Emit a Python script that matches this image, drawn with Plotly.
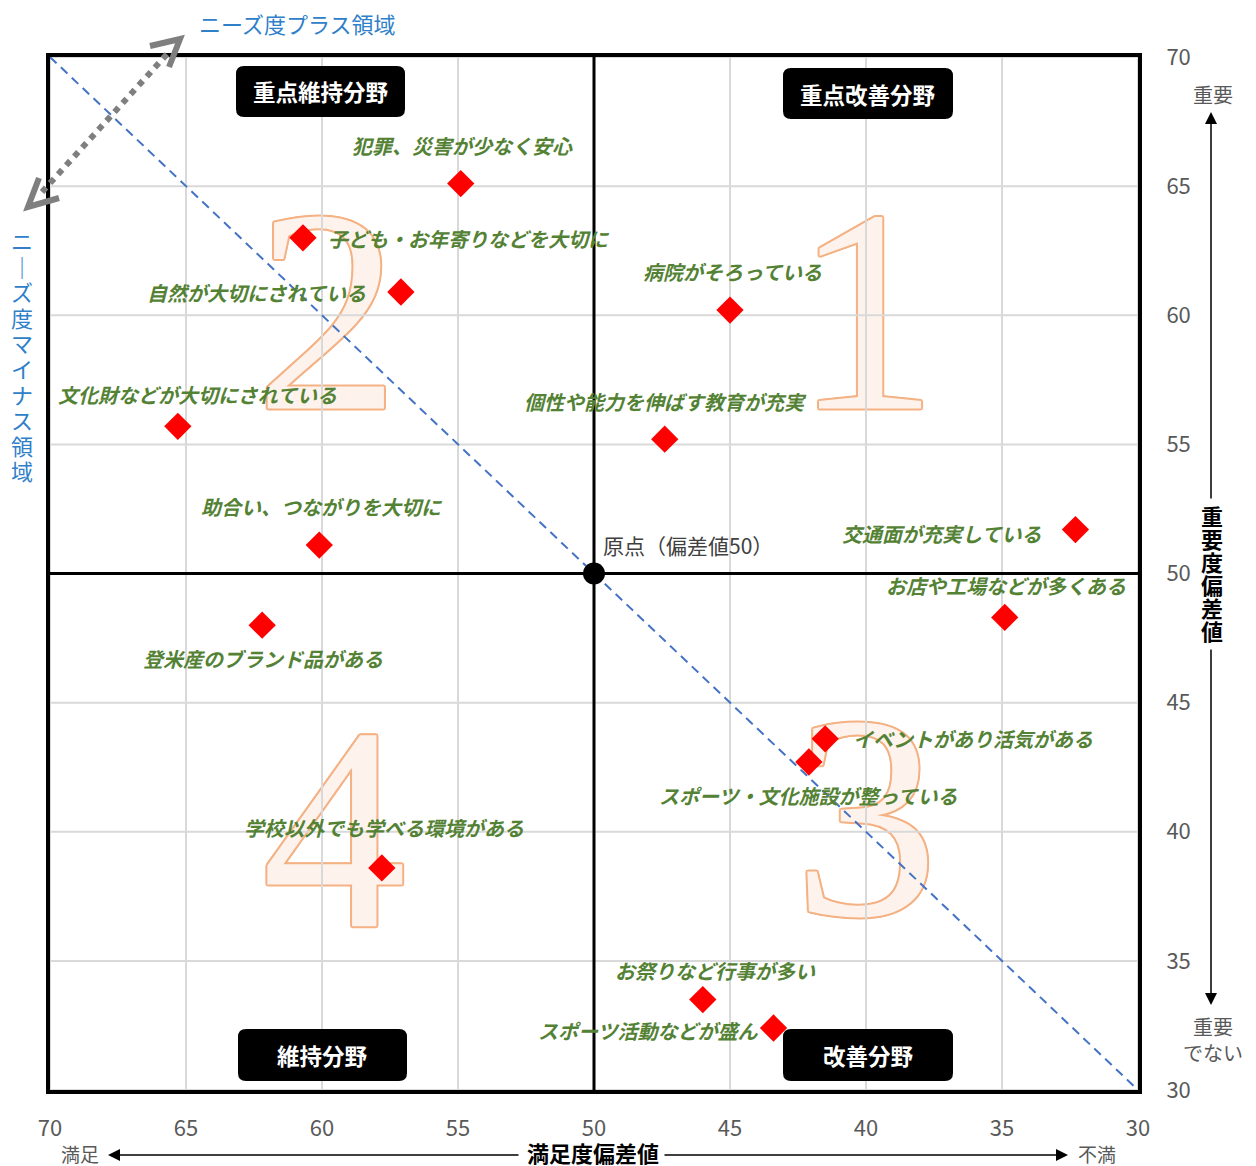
import plotly.graph_objects as go

# ---------------- data ----------------
items = [
    "犯罪、災害が少なく安心",
    "子ども・お年寄りなどを大切に",
    "自然が大切にされている",
    "文化財などが大切にされている",
    "助合い、つながりを大切に",
    "登米産のブランド品がある",
    "学校以外でも学べる環境がある",
    "病院がそろっている",
    "個性や能力を伸ばす教育が充実",
    "交通面が充実している",
    "お店や工場などが多くある",
    "イベントがあり活気がある",
    "スポーツ・文化施設が整っている",
    "お祭りなど行事が多い",
    "スポーツ活動などが盛ん",
]
satisfaction = [54.9, 60.7, 57.1, 65.3, 60.1, 62.2, 57.8, 45.0, 47.4, 32.3, 34.9, 41.5, 42.1, 46.0, 43.4]
importance = [65.1, 63.0, 60.9, 55.7, 51.1, 48.0, 38.6, 60.2, 55.2, 51.7, 48.3, 43.6, 42.7, 33.5, 32.4]

x_ticks = [70, 65, 60, 55, 50, 45, 40, 35, 30]
y_ticks = [30, 35, 40, 45, 50, 55, 60, 65, 70]
x_range = [70, 30]
y_range = [30, 70]
origin = 50

quad_labels = ["1", "2", "3", "4"]
quad_x = [40, 59.8, 40, 59.55]
quad_y = [59.2, 59.2, 39.6, 39.15]

# label placement (anchor, dx px, dy px downward)
label_pos = [
    ("center", 2, -38), ("left", 23, 1), ("right", -33, 0), ("center", 20, -32),
    ("center", 3, -39), ("center", 1, 33), ("center", 2, -40), ("center", 2, -39),
    ("center", 1, -38), ("right", -32, 4), ("center", 1, -32), ("left", 26, 0),
    ("center", 0, 33), ("center", 13, -29), ("right", -13, 2),
]

# ---------------- layout geometry ----------------
OFF = 8  # page body margin
W, H = 1248, 1158
L, T = 42, 49
R = W - 1130
B = H - 1082
PW, PH = W - L - R, H - T - B


def px(x):
    return (x - OFF - L) / PW


def py(y):
    return (H - B - (y - OFF)) / PH


JP = "Noto Sans CJK JP"
GRAY = "#595959"
BLUE = "#2f80c9"

fig = go.Figure()

# big quadrant numbers (outlined)
ol = "#f4b183"
shadow = ", ".join(f"{a}px {b}px 0 {ol}" for a, b in
                   [(2, 0), (-2, 0), (0, 2), (0, -2), (1.5, 1.5), (-1.5, 1.5), (1.5, -1.5), (-1.5, -1.5)])
fig.add_trace(go.Scatter(
    x=quad_x, y=quad_y, mode="text", text=quad_labels, textposition="middle center",
    textfont=dict(family="Liberation Serif", size=290, color="#fdf3ec", shadow=shadow),
    hoverinfo="skip", showlegend=False))

# grid lines (drawn over the numbers)
gx, gy = [], []
for v in x_ticks:
    if v != origin:
        gx += [v, v, None]
        gy += [y_range[0], y_range[1], None]
for v in y_ticks:
    if v != origin:
        gx += [x_range[0], x_range[1], None]
        gy += [v, v, None]
fig.add_trace(go.Scatter(x=gx, y=gy, mode="lines", line=dict(color="#d9d9d9", width=2),
                         hoverinfo="skip", showlegend=False))

# diagonal (y = x)
fig.add_trace(go.Scatter(x=x_range, y=x_range, mode="lines",
                         line=dict(color="#4472c4", width=2, dash="9px,6px"),
                         hoverinfo="skip", showlegend=False))

# center lines
fig.add_trace(go.Scatter(x=[origin, origin, None, x_range[0], x_range[1]],
                         y=[y_range[0], y_range[1], None, origin, origin],
                         mode="lines", line=dict(color="black", width=3),
                         hoverinfo="skip", showlegend=False))

# data markers
fig.add_trace(go.Scatter(x=satisfaction, y=importance, mode="markers", text=items,
                         marker=dict(symbol="diamond", size=21, color="#ff0000", line=dict(width=0)),
                         showlegend=False))

# origin dot
fig.add_trace(go.Scatter(x=[origin], y=[origin], mode="markers",
                         marker=dict(size=22, color="black"), hoverinfo="skip", showlegend=False))

ann = []
for name, xv, yv, (anc, dx, dy) in zip(items, satisfaction, importance, label_pos):
    ann.append(dict(x=xv, y=yv, xref="x", yref="y", text=name, showarrow=False,
                    xanchor=anc, yanchor="middle", xshift=dx, yshift=-dy,
                    font=dict(family=JP, size=20, color="#548235", style="italic", weight="bold")))

ann.append(dict(x=origin, y=origin, xref="x", yref="y", text="原点（偏差値50）", showarrow=False,
                xanchor="left", yanchor="middle", xshift=7, yshift=29,
                font=dict(family=JP, size=21, color="#404040")))


def ptext(x, y, text, size=20, color=GRAY, bold=False, xanchor="center"):
    ann.append(dict(x=px(x), y=py(y), xref="paper", yref="paper", text=text, showarrow=False,
                    xanchor=xanchor, yanchor="middle",
                    font=dict(family=JP, size=size, color=color, weight="bold" if bold else "normal")))


ptext(297, 23, "ニーズ度プラス領域", size=22, color=BLUE)
for i, ch in enumerate("ニ｜ズ度マイナス領域"):
    ptext(22, 240 + i * 25.6, ch, size=22, color=BLUE)
for i, ch in enumerate("重要度偏差値"):
    ptext(1212, 515 + i * 23, ch, size=22, color="black", bold=True)
ptext(1213, 94, "重要")
ptext(1213, 1026, "重要")
ptext(1213, 1052, "でない")
ptext(80, 1153, "満足", size=19)
ptext(1097, 1153, "不満", size=19)
ptext(593, 1152, "満足度偏差値", size=22, color="black", bold=True)


def arrow(hx, hy, tx, ty):
    ann.append(dict(x=px(hx), y=py(hy), xref="paper", yref="paper", text="", showarrow=True,
                    ax=tx - hx, ay=ty - hy, arrowhead=2, arrowsize=1.6, arrowwidth=1.5,
                    arrowcolor="black"))


arrow(108, 1155, 520, 1155)
arrow(1068, 1155, 663, 1155)
arrow(1211, 112, 1211, 500)
arrow(1211, 1005, 1211, 648)

shapes = []


def rrect(x0, y0, x1, y1, r=8):
    pts = (f"M {px(x0 + r)},{py(y0)} L {px(x1 - r)},{py(y0)} Q {px(x1)},{py(y0)} {px(x1)},{py(y0 + r)} "
           f"L {px(x1)},{py(y1 - r)} Q {px(x1)},{py(y1)} {px(x1 - r)},{py(y1)} "
           f"L {px(x0 + r)},{py(y1)} Q {px(x0)},{py(y1)} {px(x0)},{py(y1 - r)} "
           f"L {px(x0)},{py(y0 + r)} Q {px(x0)},{py(y0)} {px(x0 + r)},{py(y0)} Z")
    shapes.append(dict(type="path", xref="paper", yref="paper", path=pts,
                       fillcolor="black", line=dict(width=0), layer="above"))


boxes = [("重点維持分野", 236, 66, 405, 117), ("重点改善分野", 783, 68, 953, 119),
         ("維持分野", 238, 1029, 407, 1081), ("改善分野", 783, 1029, 953, 1081)]
for t, x0, y0, x1, y1 in boxes:
    rrect(x0, y0, x1, y1)
    ptext((x0 + x1) / 2, (y0 + y1) / 2, t, size=22.5, color="white", bold=True)

# gray dotted double arrow
shapes.append(dict(type="line", xref="paper", yref="paper", x0=px(42), y0=py(192), x1=px(168), y1=py(53),
                   line=dict(color="#7f7f7f", width=6, dash="dot")))
shapes.append(dict(type="path", xref="paper", yref="paper",
                   path=f"M {px(150)},{py(46)} L {px(180)},{py(39)} L {px(169)},{py(67)}",
                   line=dict(color="#7f7f7f", width=6)))
shapes.append(dict(type="path", xref="paper", yref="paper",
                   path=f"M {px(39)},{py(178)} L {px(28)},{py(207)} L {px(59)},{py(198)}",
                   line=dict(color="#7f7f7f", width=6)))

fig.update_layout(
    width=W, height=H, margin=dict(l=L, r=R, t=T, b=B),
    paper_bgcolor="white", plot_bgcolor="white",
    annotations=ann, shapes=shapes, showlegend=False,
    xaxis=dict(range=x_range, tickvals=x_ticks, showgrid=False, zeroline=False,
               showline=True, mirror=True, linecolor="black", linewidth=4,
               ticks="", ticklabelstandoff=16,
               tickfont=dict(family=JP, size=22, color=GRAY)),
    yaxis=dict(range=y_range, tickvals=y_ticks, showgrid=False, zeroline=False, side="right",
               showline=True, mirror=True, linecolor="black", linewidth=4,
               ticks="", ticklabelstandoff=20,
               tickfont=dict(family=JP, size=22, color=GRAY)),
)

fig.write_html("out.html")
